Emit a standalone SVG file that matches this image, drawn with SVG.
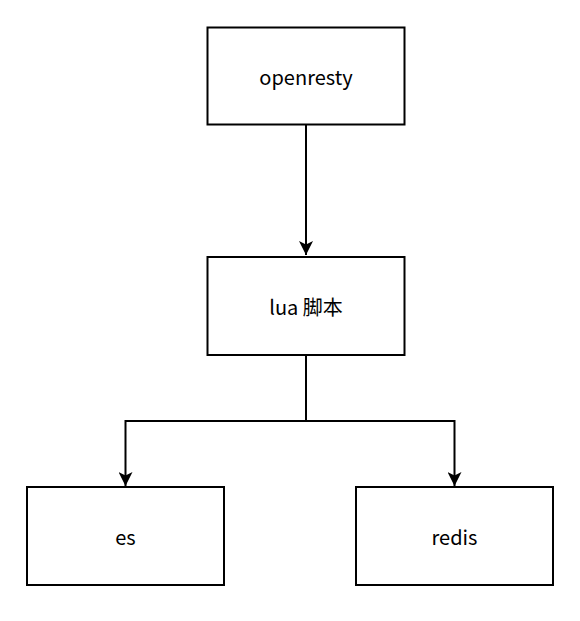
<svg xmlns="http://www.w3.org/2000/svg" width="580" height="621" viewBox="0 0 580 621">
<style>
.box{fill:#fff;stroke:#000;stroke-width:2}
.lbl{font-family:"Noto Sans CJK SC","Noto Sans",sans-serif;font-size:20px;fill:#000;text-anchor:middle;dominant-baseline:central}
.edge{fill:none;stroke:#000;stroke-width:2}
</style>
<defs>
<marker id="arr" markerUnits="userSpaceOnUse" markerWidth="14" markerHeight="16" refX="7" refY="15" orient="0" viewBox="0 0 14 16">
<path d="M0,1 L7,4.5 L14,1 L7,15 Z" fill="#000"/>
</marker>
</defs>
<g id="edges">
<path class="edge" d="M306,125 V255" marker-end="url(#arr)"/>
<path class="edge" d="M306,355 V421 H125.5 V486" marker-end="url(#arr)"/>
<path class="edge" d="M306,421 H454.5 V486" marker-end="url(#arr)"/>
</g>
<g id="openresty">
<rect class="box" x="207.5" y="27.5" width="197" height="97"/>
<text class="lbl" x="306" y="76">openresty</text>
</g>
<g id="lua">
<rect class="box" x="207.5" y="257" width="197" height="98"/>
<text class="lbl" x="306" y="306">lua 脚本</text>
</g>
<g id="es">
<rect class="box" x="27" y="487" width="197" height="98"/>
<text class="lbl" x="125.5" y="536">es</text>
</g>
<g id="redis">
<rect class="box" x="356" y="487" width="197" height="98"/>
<text class="lbl" x="454.5" y="536">redis</text>
</g>
</svg>
